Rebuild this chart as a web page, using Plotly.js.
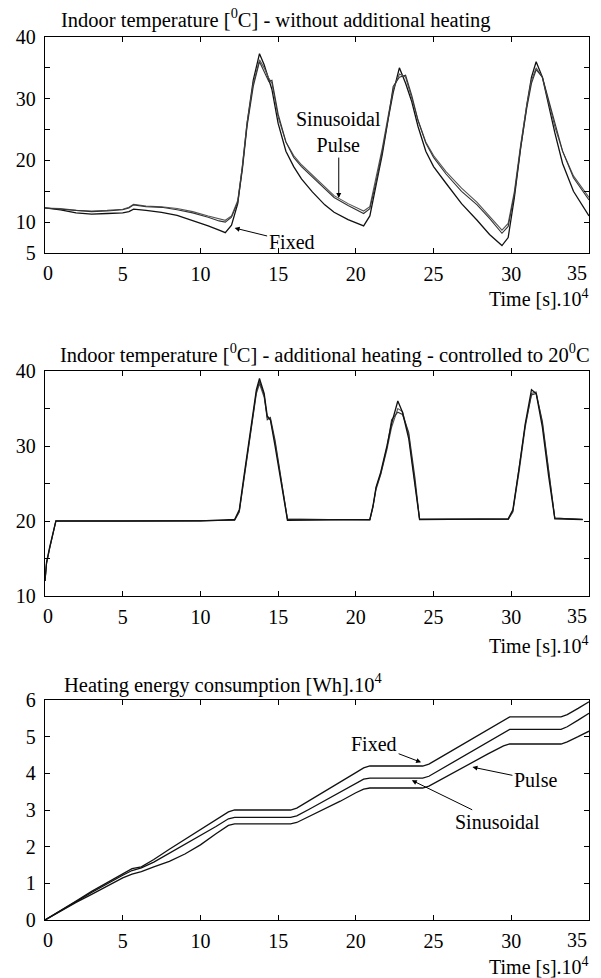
<!DOCTYPE html>
<html>
<head>
<meta charset="utf-8">
<script src="https://cdn.plot.ly/plotly-3.0.1.min.js"></script>
<style>html,body{margin:0;padding:0;background:#fff;}#chart{width:601px;height:978px;}</style>
</head>
<body>
<div id="chart"></div>
<script>
// ---------- Panel 1: indoor temperature without additional heating ----------
const t1 = [0, 1, 2, 3, 4, 5, 5.4, 5.7, 6.5, 7.5, 8.5, 9.5, 10.5, 11.2, 11.6, 12.0, 12.4, 12.7, 13.0, 13.4, 13.8, 14.1, 14.4, 14.6, 15.0, 15.5, 16.0, 16.5, 17.2, 18.0, 18.6, 19.5, 20.5, 20.9, 21.3, 21.7, 22.1, 22.4, 22.8, 23.2, 23.6, 24.0, 24.5, 25.0, 25.8, 26.8, 27.8, 28.6, 29.4, 29.8, 30.2, 30.6, 31.0, 31.3, 31.6, 32.0, 32.4, 32.8, 33.3, 34.0, 35.0];
const fixed1 = [12.3, 12.0, 11.5, 11.3, 11.4, 11.5, 11.7, 12.1, 11.9, 11.6, 11.1, 10.3, 9.4, 8.7, 8.3, 9.5, 13, 19, 26, 33, 37.3, 35.5, 33.0, 31.5, 26.0, 21.5, 19.0, 17.0, 14.9, 12.8, 11.6, 10.4, 9.4, 11, 16, 21, 27, 31, 35.0, 32.5, 29.5, 25.5, 21.5, 19.0, 16.3, 13.0, 10.3, 8.0, 6.2, 7.5, 14, 22, 29, 33.5, 36.0, 33.5, 29, 24.5, 19.5, 15.0, 11.0];
const sin1 = [12.3, 12.2, 11.9, 11.8, 11.9, 12.1, 12.4, 12.9, 12.6, 12.5, 12.2, 11.7, 11.0, 10.5, 10.3, 11, 13.5, 19, 26, 32.5, 36.3, 35, 33.3, 32.5, 27.0, 23.0, 20.8, 19.3, 17.6, 15.6, 14.3, 13.0, 11.8, 12.5, 17, 22, 27.5, 31.5, 34.0, 33.5, 30, 26.5, 23, 20.8, 18.2, 15.5, 13.2, 11, 8.7, 9.8, 15, 22.5, 29, 33, 35.0, 33.5, 29.5, 25.5, 21.5, 17.5, 14.0];
const pulse1 = [12.3, 12.1, 11.8, 11.7, 11.8, 12.0, 12.3, 12.8, 12.5, 12.4, 12.0, 11.5, 10.8, 10.2, 10.0, 10.8, 13.2, 18.5, 25.5, 32, 36.0, 34.5, 32.8, 33.0, 27.5, 23.0, 20.5, 19.0, 17.3, 15.3, 14.0, 12.7, 11.4, 12.2, 16.5, 21.5, 27, 32.0, 33.5, 33.8, 30.5, 26.5, 22.8, 20.5, 17.8, 15.0, 12.8, 10.6, 8.2, 9.3, 14.5, 22, 28.5, 32.5, 34.7, 33.5, 29.8, 25.8, 21.5, 17.2, 13.6];

// ---------- Panel 2: indoor temperature, heating controlled to 20 C ----------
const t2 = [0, 0.1, 0.3, 0.5, 0.7, 5, 10, 12.2, 12.5, 12.8, 13.2, 13.6, 13.8, 14.1, 14.3, 14.5, 14.8, 15.2, 15.6, 20.9, 21.1, 21.3, 21.6, 22.0, 22.3, 22.7, 23.0, 23.4, 23.8, 24.1, 29.8, 30.1, 30.5, 30.9, 31.3, 31.6, 32.0, 32.4, 32.8, 34.6];
const fixed2 = [12, 14.5, 16.5, 18.2, 20, 20, 20, 20.2, 21.5, 26, 32, 37.5, 39, 37, 34, 33.5, 30, 25, 20.1, 20.2, 22, 24.5, 26.5, 30, 33, 36, 34.5, 31, 25, 20.2, 20.3, 21.5, 27, 33, 37.5, 37, 32.5, 26, 20.3, 20.2];
const sin2 = [12, 14.3, 16.3, 18.0, 20, 20, 20, 20.1, 21.2, 25.5, 31.5, 37, 38.3, 36.5, 33.8, 33.5, 30.5, 25.5, 20.3, 20.1, 21.8, 24.2, 26.2, 29.5, 32.5, 35, 34.6, 31.5, 25.5, 20.3, 20.2, 21.2, 26.5, 32.5, 37, 37.2, 33, 26.5, 20.4, 20.2];
const pulse2 = [12, 14.4, 16.4, 18.1, 20, 20, 20, 20.1, 21.3, 25.8, 31.8, 37.2, 38.6, 36.8, 33.5, 33.8, 30.8, 25.8, 20.2, 20.2, 21.9, 24.4, 26.3, 29.8, 33.5, 34.5, 34.2, 31.8, 25.8, 20.2, 20.2, 21.3, 26.8, 32.8, 36.8, 37.0, 33.3, 26.8, 20.4, 20.2];

// ---------- Panel 3: heating energy consumption [Wh].10^4 ----------
const t3 = [0, 1, 2, 3, 4, 5, 5.6, 6.2, 7, 8, 9, 10, 11, 11.8, 12.2, 15.8, 16.2, 17, 18, 19, 20, 20.5, 20.9, 24.3, 24.7, 25.5, 26.5, 27.5, 28.5, 29.5, 29.9, 33.2, 33.6, 34.3, 35];
const fixed3 = [0, 0.27, 0.52, 0.78, 1.02, 1.25, 1.4, 1.45, 1.65, 1.93, 2.2, 2.45, 2.72, 2.95, 3.0, 3.0, 3.05, 3.25, 3.5, 3.75, 4.02, 4.15, 4.2, 4.2, 4.25, 4.45, 4.7, 4.95, 5.2, 5.45, 5.54, 5.54, 5.6, 5.77, 5.95];
const sin3 = [0, 0.26, 0.5, 0.75, 0.99, 1.22, 1.35, 1.42, 1.58, 1.82, 2.05, 2.3, 2.55, 2.76, 2.8, 2.8, 2.84, 3.02, 3.25, 3.48, 3.72, 3.84, 3.87, 3.87, 3.92, 4.12, 4.37, 4.62, 4.87, 5.12, 5.2, 5.2, 5.27, 5.45, 5.64];
const pulse3 = [0, 0.25, 0.48, 0.7, 0.93, 1.15, 1.25, 1.32, 1.45, 1.6, 1.8, 2.05, 2.35, 2.58, 2.62, 2.62, 2.66, 2.82, 3.02, 3.24, 3.47, 3.57, 3.6, 3.6, 3.65, 3.84, 4.07, 4.3, 4.53, 4.75, 4.8, 4.8, 4.86, 5.0, 5.15];

// ---------- Tick labels and texts ----------
const xInnerTickVals = [5, 10, 15, 20, 25, 30];
const xInnerTickText = ['5', '10', '15', '20', '25', '30'];
const xEndTicks = [0, 35];
const xEndText = ['0', '35'];
const y1TickVals = [5, 10, 20, 30, 40];
const y1TickText = ['5', '10', '20', '30', '40'];
const y2TickVals = [10, 20, 30, 40];
const y2TickText = ['10', '20', '30', '40'];
const y3TickVals = [0, 1, 2, 3, 4, 5, 6];
const y3TickText = ['0', '1', '2', '3', '4', '5', '6'];
const titles = [
  'Indoor temperature [<sup>0</sup>C] - without additional heating',
  'Indoor temperature [<sup>0</sup>C] - additional heating - controlled to 20<sup>0</sup>C',
  'Heating energy consumption [Wh].10<sup>4</sup>'
];
const xLabel = 'Time [s].10<sup>4</sup>';

// ---------- Layout geometry ----------
const W = 601, H = 978;
const FONT = 'Liberation Serif, Times New Roman, serif';
function py(p) { return (H - p) / H; }          // pixel row -> paper y
function px(p) { return (p - 45) / 544; }       // pixel col -> paper x
const axisBottoms = [253, 596, 920];

const lineStyle = {
  fixed: {color: '#111', width: 1.3},
  sin: {color: '#555', width: 1.1},
  pulse: {color: '#333', width: 1.1}
};

const traces = [
  {x: t1, y: fixed1, xaxis: 'x', yaxis: 'y', name: 'Fixed', line: lineStyle.fixed},
  {x: t1, y: sin1, xaxis: 'x', yaxis: 'y', name: 'Sinusoidal', line: lineStyle.sin},
  {x: t1, y: pulse1, xaxis: 'x', yaxis: 'y', name: 'Pulse', line: lineStyle.pulse},
  {x: t2, y: sin2, xaxis: 'x2', yaxis: 'y2', name: 'Sinusoidal', line: lineStyle.sin},
  {x: t2, y: pulse2, xaxis: 'x2', yaxis: 'y2', name: 'Pulse', line: lineStyle.pulse},
  {x: t2, y: fixed2, xaxis: 'x2', yaxis: 'y2', name: 'Fixed', line: lineStyle.fixed},
  {x: t3, y: fixed3, xaxis: 'x3', yaxis: 'y3', name: 'Fixed', line: lineStyle.fixed},
  {x: t3, y: sin3, xaxis: 'x3', yaxis: 'y3', name: 'Sinusoidal', line: lineStyle.fixed},
  {x: t3, y: pulse3, xaxis: 'x3', yaxis: 'y3', name: 'Pulse', line: lineStyle.fixed}
].map(tr => Object.assign({type: 'scatter', mode: 'lines', hoverinfo: 'skip'}, tr));

const axBase = {
  showline: true, linecolor: '#000', linewidth: 1.3, mirror: 'ticks',
  ticks: 'inside', ticklen: 5, tickwidth: 1, tickcolor: '#000',
  showgrid: false, zeroline: false,
  tickfont: {family: FONT, size: 20, color: '#000'}
};
function xa(anchor) {
  return Object.assign({}, axBase, {
    anchor: anchor, domain: [0, 1], range: [0, 35],
    tickmode: 'array', tickvals: xInnerTickVals, ticktext: xInnerTickText,
    ticklabelstandoff: 3,
    minor: {tickmode: 'linear', tick0: 0, dtick: 5, ticks: 'inside', ticklen: 5, tickcolor: '#000', showgrid: false}
  });
}
function ya(anchor, dom, range, vals, text) {
  return Object.assign({}, axBase, {
    anchor: anchor, domain: dom, range: range,
    tickmode: 'array', tickvals: vals, ticktext: text,
    ticklabelstandoff: 4,
    minor: {tickmode: 'linear', tick0: 0, dtick: 5, ticks: 'inside', ticklen: 5, tickcolor: '#000', showgrid: false}
  });
}

const annFont = {family: FONT, size: 20, color: '#000'};
const titleFont = {family: FONT, size: 20.5, color: '#000'};
const annotations = [
  {text: titles[0], xref: 'paper', yref: 'paper', x: px(276), y: py(18), xanchor: 'center', yanchor: 'middle', showarrow: false, font: titleFont},
  {text: titles[1], xref: 'paper', yref: 'paper', x: px(325), y: py(353), xanchor: 'center', yanchor: 'middle', showarrow: false, font: titleFont},
  {text: titles[2], xref: 'paper', yref: 'paper', x: px(223), y: py(683), xanchor: 'center', yanchor: 'middle', showarrow: false, font: titleFont},
  {text: xLabel, xref: 'paper', yref: 'paper', x: px(591), y: py(298), xanchor: 'right', yanchor: 'middle', showarrow: false, font: annFont},
  {text: xLabel, xref: 'paper', yref: 'paper', x: px(591), y: py(645), xanchor: 'right', yanchor: 'middle', showarrow: false, font: annFont},
  {text: xLabel, xref: 'paper', yref: 'paper', x: px(591), y: py(966), xanchor: 'right', yanchor: 'middle', showarrow: false, font: annFont},
  // panel 1 labels
  {text: 'Sinusoidal<br>Pulse', xref: 'x', yref: 'y', x: 18.9, y: 13.9, ax: 0, ay: -66, showarrow: true, arrowhead: 2, arrowsize: 1, arrowwidth: 1, arrowcolor: '#000', font: annFont},
  {text: 'Fixed', xref: 'x', yref: 'y', x: 12.2, y: 9.05, ax: 57, ay: 14, showarrow: true, arrowhead: 2, arrowsize: 1, arrowwidth: 1, arrowcolor: '#000', font: annFont},
  // panel 3 labels
  {text: 'Fixed', xref: 'x3', yref: 'y3', x: 24.2, y: 4.3, ax: -47, ay: -18, showarrow: true, arrowhead: 2, arrowsize: 1, arrowwidth: 1, arrowcolor: '#000', font: annFont},
  {text: 'Pulse', xref: 'x3', yref: 'y3', x: 27.5, y: 4.17, ax: 63, ay: 13, showarrow: true, arrowhead: 2, arrowsize: 1, arrowwidth: 1, arrowcolor: '#000', font: annFont},
  {text: 'Sinusoidal', xref: 'x3', yref: 'y3', x: 23.6, y: 3.81, ax: 86, ay: 42, showarrow: true, arrowhead: 2, arrowsize: 1, arrowwidth: 1, arrowcolor: '#000', font: annFont}
];
// end x tick labels (0 and 35), nudged inward as in the reference
const xrefs = ['x', 'x2', 'x3'];
const endShift = [3, -12];
xrefs.forEach((xr, i) => {
  xEndTicks.forEach((v, j) => {
    annotations.push({text: xEndText[j], xref: xr, yref: 'paper', x: v, xshift: endShift[j],
      y: py(axisBottoms[i] + 20), xanchor: 'center', yanchor: 'middle', showarrow: false, font: annFont});
  });
});

const layout = {
  width: W, height: H,
  margin: {l: 45, r: 12, t: 0, b: 0},
  paper_bgcolor: '#fff', plot_bgcolor: '#fff',
  showlegend: false,
  font: {family: FONT, size: 20, color: '#000'},
  xaxis: xa('y'), xaxis2: xa('y2'), xaxis3: xa('y3'),
  yaxis: ya('x', [py(253), py(37)], [5, 40], y1TickVals, y1TickText),
  yaxis2: ya('x2', [py(596), py(371)], [10, 40], y2TickVals, y2TickText),
  yaxis3: Object.assign(ya('x3', [py(920), py(700)], [0, 6], y3TickVals, y3TickText), {minor: undefined}),
  annotations: annotations
};

Plotly.newPlot('chart', traces, layout, {staticPlot: true, displayModeBar: false});
</script>
</body>
</html>
